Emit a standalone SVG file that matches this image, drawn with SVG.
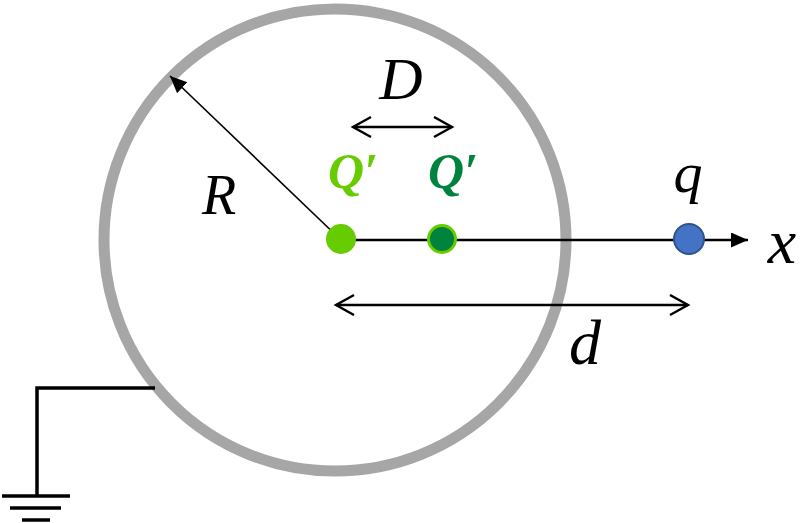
<svg xmlns="http://www.w3.org/2000/svg" width="800" height="523" viewBox="0 0 800 523">
<style>
.lbl{font-family:"Liberation Serif","DejaVu Serif",serif;font-style:italic;fill:#000}
.qp{font-family:"Liberation Serif","DejaVu Serif",serif;font-style:italic;font-weight:bold;font-size:50px}
.ln{stroke:#000;fill:none}
</style>
<defs>
<marker id="open" markerWidth="22" markerHeight="24" refX="19" refY="11" orient="auto-start-reverse" markerUnits="userSpaceOnUse">
<path d="M1,1 L19,11 L1,21" fill="none" stroke="#000" stroke-width="2.4"/>
</marker>
<marker id="fill" markerWidth="18" markerHeight="16" refX="17" refY="7.5" orient="auto" markerUnits="userSpaceOnUse">
<path d="M0,0 L17,7.5 L0,15 Z" fill="#000"/>
</marker>
</defs>
<g id="sphere"><circle cx="335" cy="240" r="231" fill="none" stroke="#a6a6a6" stroke-width="11"/></g>
<g id="connectors">
<line class="ln" x1="341" y1="240" x2="170" y2="76" stroke-width="1.6" marker-end="url(#fill)"/>
<line class="ln" x1="341" y1="240" x2="748" y2="240" stroke-width="2.5" marker-end="url(#fill)"/>
<line class="ln" x1="353" y1="127" x2="452" y2="127" stroke-width="2.4" marker-start="url(#open)" marker-end="url(#open)"/>
<line class="ln" x1="336" y1="305" x2="688" y2="305" stroke-width="2.4" marker-start="url(#open)" marker-end="url(#open)"/>
<polyline class="ln" points="155,388 37,388 37,496" stroke-width="3.5"/>
</g>
<g id="ground">
<line class="ln" x1="2" y1="496" x2="70" y2="496" stroke-width="3.5"/>
<line class="ln" x1="10" y1="508" x2="61" y2="508" stroke-width="3.5"/>
<line class="ln" x1="22" y1="520" x2="50" y2="520" stroke-width="3.5"/>
</g>
<g id="Q1"><circle cx="341" cy="239" r="15" fill="#66cc00"/><text class="qp" x="353" y="188" text-anchor="middle" fill="#66cc00">Q′</text></g>
<g id="Q2"><circle cx="442" cy="239" r="13.5" fill="#00843d" stroke="#66cc00" stroke-width="3"/><text class="qp" x="453" y="188" text-anchor="middle" fill="#00843d">Q′</text></g>
<g id="q"><circle cx="689" cy="239" r="15" fill="#4472c4" stroke="#2f528f" stroke-width="2"/><text class="lbl" x="688" y="192" font-size="58" text-anchor="middle">q</text></g>
<text class="lbl" x="401" y="99" font-size="60" text-anchor="middle">D</text>
<text class="lbl" x="219" y="214" font-size="56" text-anchor="middle">R</text>
<text class="lbl" x="585" y="364" font-size="64" text-anchor="middle">d</text>
<text class="lbl" x="782" y="263" font-size="64" text-anchor="middle">x</text>
</svg>
